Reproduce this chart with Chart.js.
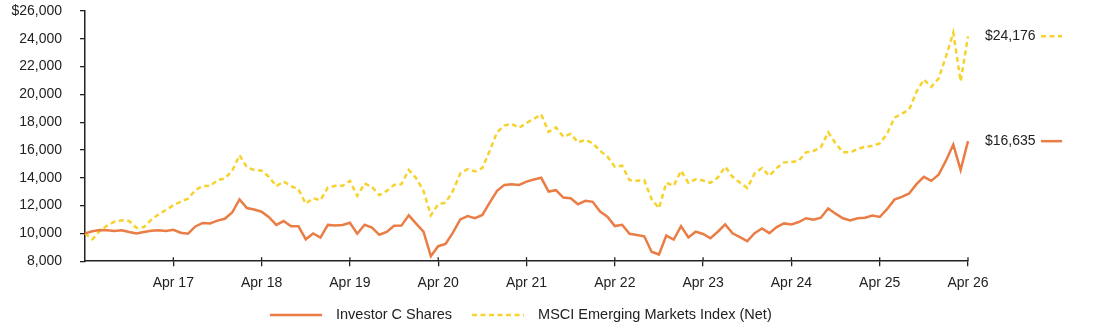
<!DOCTYPE html>
<html>
<head>
<meta charset="utf-8">
<script src="https://cdn.jsdelivr.net/npm/chart.js@4.4.1/dist/chart.umd.min.js"></script>
<style>
  html, body { margin: 0; padding: 0; background: #fff; }
  #chart { display: block; }
</style>
</head>
<body>
<canvas id="chart" width="1094" height="327"></canvas>
<script>
// monthly points, Apr 16 .. Apr 26
const monthNames = ['Jan', 'Feb', 'Mar', 'Apr', 'May', 'Jun', 'Jul', 'Aug', 'Sep', 'Oct', 'Nov', 'Dec'];
const categories = [];
for (let i = 0; i <= 120; i++) {
  const m = (3 + i) % 12;
  const yy = 16 + Math.floor((3 + i) / 12);
  categories.push(monthNames[m] + ' ' + yy);
}

const tickLabels = ['Apr 17', 'Apr 18', 'Apr 19', 'Apr 20', 'Apr 21', 'Apr 22', 'Apr 23', 'Apr 24', 'Apr 25', 'Apr 26'];

const seriesNames = ['Investor C Shares', 'MSCI Emerging Markets Index (Net)'];

const investorC = [
  10000, 10150, 10240, 10220, 10170, 10230, 10100, 9990, 10100, 10190,
  10220, 10170, 10260, 10050, 9980, 10500, 10750, 10720, 10920, 11050,
  11500, 12450, 11820, 11720, 11560, 11170, 10610, 10890, 10520, 10520,
  9580, 10000, 9700, 10610, 10560, 10610, 10770, 9980, 10620, 10420,
  9900, 10100, 10550, 10560, 11300, 10700, 10120, 8360, 9080, 9250,
  10050, 11010, 11250, 11090, 11330, 12210, 13060, 13490, 13540, 13490,
  13730, 13880, 14000, 13010, 13110, 12580, 12530, 12100, 12340, 12270,
  11570, 11200, 10530, 10620, 9970, 9880, 9790, 8680, 8480, 9840,
  9560, 10520, 9710, 10120, 9960, 9650, 10120, 10650, 10010, 9730,
  9440, 10020, 10360, 10020, 10460, 10720, 10650, 10820, 11090, 10990,
  11130, 11790, 11420, 11090, 10940, 11090, 11130, 11280, 11180, 11740,
  12430, 12630, 12870, 13540, 14070, 13780, 14220, 15230, 16390, 14560,
  16635
];

const msciEM = [
  10000, 9570, 10170, 10560, 10840, 10940, 10890, 10400, 10450, 10980,
  11370, 11680, 12020, 12290, 12500, 13110, 13420, 13400, 13830, 13950,
  14500, 15620, 14750, 14560, 14510, 14070, 13400, 13730, 13400, 13180,
  12140, 12530, 12390, 13300, 13420, 13420, 13780, 12700, 13590, 13350,
  12750, 13060, 13490, 13540, 14560, 13980, 13060, 11300, 12100, 12210,
  13060, 14310, 14630, 14460, 14700, 15950, 17280, 17760, 17880, 17590,
  17950, 18240, 18560, 17300, 17620, 16960, 17160, 16550, 16730, 16480,
  15950, 15520, 14800, 14870, 13830, 13780, 13830, 12460, 11810, 13640,
  13420, 14510, 13640, 13900, 13800, 13640, 14020, 14800, 14070, 13660,
  13260, 14310, 14700, 14140, 14700, 15110, 15130, 15230, 15830, 15930,
  16190, 17280, 16480, 15830, 15830, 16070, 16240, 16290, 16480, 17160,
  18320, 18610, 18900, 20180, 21070, 20540, 21140, 22710, 24440, 20940,
  24176
];

const endLabels = ['$16,635', '$24,176'];

const ORANGE = '#EA7D45';
const YELLOW = '#F6D22E';
const INK = '#222';
const FONT = "'Liberation Sans', Arial, sans-serif";

Chart.defaults.font.family = FONT;
Chart.defaults.font.size = 14;
Chart.defaults.color = INK;

// small ticks that also poke up into the plot over the x axis
const crossTicks = {
  id: 'crossTicks',
  afterDatasetsDraw(chart) {
    const x = chart.scales.x;
    const ctx = chart.ctx;
    ctx.save();
    ctx.strokeStyle = INK;
    ctx.lineWidth = 1.3;
    x.ticks.forEach((t, i) => {
      const px = x.getPixelForTick(i);
      ctx.beginPath();
      ctx.moveTo(px, x.top - 4);
      ctx.lineTo(px, x.top);
      ctx.stroke();
    });
    ctx.restore();
  }
};

// "$24,176 - - -" labels at right end of each line
const endLabelPlugin = {
  id: 'endLabels',
  afterDraw(chart) {
    const ctx = chart.ctx;
    const y = chart.scales.y;
    ctx.save();
    ctx.font = '14px ' + FONT;
    ctx.textBaseline = 'middle';
    ctx.textAlign = 'left';
    chart.data.datasets.forEach((ds, i) => {
      const py = y.getPixelForValue(ds.data[ds.data.length - 1]);
      ctx.fillStyle = INK;
      ctx.fillText(endLabels[i], 985, py);
      ctx.strokeStyle = ds.borderColor;
      ctx.lineWidth = ds.borderWidth;
      ctx.setLineDash(ds.borderDash || []);
      ctx.beginPath();
      ctx.moveTo(1041, py);
      ctx.lineTo(1062, py);
      ctx.stroke();
      ctx.setLineDash([]);
    });
    ctx.restore();
  }
};

// bottom legend with a line sample before each name
const lineLegend = {
  id: 'lineLegend',
  afterDraw(chart) {
    const ctx = chart.ctx;
    const ly = 315;
    let lx = 270;
    ctx.save();
    ctx.font = '14.5px ' + FONT;
    ctx.textBaseline = 'middle';
    ctx.textAlign = 'left';
    chart.data.datasets.forEach(ds => {
      ctx.strokeStyle = ds.borderColor;
      ctx.lineWidth = ds.borderWidth;
      ctx.setLineDash(ds.borderDash || []);
      ctx.beginPath();
      ctx.moveTo(lx, ly);
      ctx.lineTo(lx + 52, ly);
      ctx.stroke();
      ctx.setLineDash([]);
      ctx.fillStyle = INK;
      ctx.fillText(ds.label, lx + 66, ly);
      lx += 66 + ctx.measureText(ds.label).width + 20;
    });
    ctx.restore();
  }
};

new Chart(document.getElementById('chart').getContext('2d'), {
  type: 'line',
  data: {
    labels: categories,
    datasets: [
      {
        label: seriesNames[0],
        data: investorC,
        borderColor: ORANGE,
        backgroundColor: ORANGE,
        borderWidth: 2.5,
        pointRadius: 0,
        tension: 0
      },
      {
        label: seriesNames[1],
        data: msciEM,
        borderColor: YELLOW,
        backgroundColor: YELLOW,
        borderWidth: 2.5,
        borderDash: [5, 3.5],
        pointRadius: 0,
        tension: 0
      }
    ]
  },
  options: {
    responsive: false,
    animation: false,
    devicePixelRatio: 1,
    layout: { padding: { top: 0, right: 126, bottom: 26, left: 0 } },
    plugins: {
      legend: { display: false },
      tooltip: { enabled: false }
    },
    scales: {
      x: {
        type: 'category',
        offset: false,
        grid: { drawOnChartArea: false, drawTicks: true, tickLength: 5, color: INK, lineWidth: 1.3 },
        border: { display: true, color: INK, width: 1.5 },
        ticks: {
          autoSkip: false,
          maxRotation: 0,
          padding: 9,
          callback(v) { return this.getLabelForValue(v); }
        },
        afterBuildTicks(scale) {
          scale.ticks = scale.ticks.filter(t => tickLabels.includes(categories[t.value]));
        }
      },
      y: {
        min: 8000,
        max: 26000,
        grid: { drawOnChartArea: false, drawTicks: true, tickLength: 5, color: INK, lineWidth: 1.3 },
        border: { display: true, color: INK, width: 1.5 },
        ticks: {
          stepSize: 2000,
          padding: 18,
          callback: v => (v === 26000 ? '$' : '') + v.toLocaleString('en-US')
        },
        afterFit(scale) {
          scale.width = 85;
          scale.paddingTop = 11;
          scale.paddingBottom = 0;
        }
      }
    }
  },
  plugins: [crossTicks, endLabelPlugin, lineLegend]
});
</script>
</body>
</html>
